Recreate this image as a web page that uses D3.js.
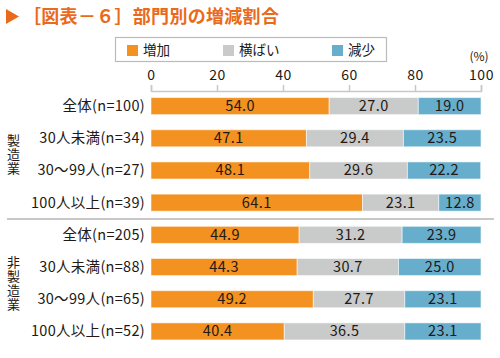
<!DOCTYPE html>
<html><head><meta charset="utf-8">
<script src="https://cdn.jsdelivr.net/npm/d3@7"></script>
<style>
body{margin:0;background:#fff;}
svg{display:block;font-family:"Noto Sans CJK JP","Noto Sans",sans-serif;}
</style></head><body>
<svg id="c" width="500" height="358"></svg>
<script>
const categories = ["全体(n=100)","30人未満(n=34)","30～99人(n=27)","100人以上(n=39)",
                    "全体(n=205)","30人未満(n=88)","30～99人(n=65)","100人以上(n=52)"];
const groups = ["製造業","非製造業"];
const seriesNames = ["増加","横ばい","減少"];
const increase = [54.0,47.1,48.1,64.1,44.9,44.3,49.2,40.4];
const flat     = [27.0,29.4,29.6,23.1,31.2,30.7,27.7,36.5];
const decrease = [19.0,23.5,22.2,12.8,23.9,25.0,23.1,23.1];
const ticks = [0,20,40,60,80,100];
const colors = ["#F39121","#C9CACA","#66AECB"];

const svg = d3.select("#c");
const x = d3.scaleLinear().domain([0,100]).range([151,481]);
const y = d3.scaleBand().domain(d3.range(8)).range([90,347.5]).paddingInner(0.47).paddingOuter(0.235);

// title
svg.append("path").attr("d","M6,9 L19,16.5 L6,24 Z").attr("fill","#EA6A1C");
svg.append("text").attr("x",23).attr("y",23).attr("fill","#EA6A1C")
  .attr("font-size",18).attr("font-weight","bold").attr("letter-spacing",0.3).text("［図表－６］部門別の増減割合");

// legend
svg.append("rect").attr("x",115.5).attr("y",37.5).attr("width",271).attr("height",24)
  .attr("fill","#fff").attr("stroke","#bbb").attr("stroke-width",1.2);
const lx = [127,223,332];
seriesNames.forEach((s,i)=>{
  svg.append("rect").attr("x",lx[i]).attr("y",45).attr("width",11).attr("height",11).attr("fill",colors[i]);
  svg.append("text").attr("x",lx[i]+16).attr("y",55).attr("font-size",13.5).attr("fill","#231815").text(s);
});

// unit
svg.append("text").attr("x",479).attr("y",61).attr("text-anchor","middle").attr("font-size",12).attr("fill","#231815").text("(%)");

// axis
const ax = svg.append("g").attr("transform","translate(0,91)")
  .call(d3.axisTop(x).tickValues(ticks).tickSize(6).tickPadding(5).tickFormat(d3.format("d")));
ax.select(".domain").attr("stroke","#c8c8c8").attr("stroke-width",1.5);
ax.selectAll(".tick line").attr("stroke","#c8c8c8").attr("stroke-width",1.5);
ax.selectAll(".tick text").attr("font-size",14).attr("fill","#231815").attr("letter-spacing",0.5)
  .attr("font-family","'Noto Sans CJK JP',sans-serif");

// bars
const data = categories.map((c,i)=>({c,i,vals:[increase[i],flat[i],decrease[i]]}));
const rows = svg.append("g").selectAll("g").data(data).join("g");
rows.each(function(d){
  const g = d3.select(this);
  let acc = 0;
  d.vals.forEach((v,k)=>{
    const x0 = x(acc), x1 = x(acc+v);
    g.append("rect").attr("x",x0).attr("y",y(d.i)).attr("width",x1-x0).attr("height",y.bandwidth())
      .attr("fill",colors[k]).attr("stroke","#fff").attr("stroke-opacity",0.55).attr("stroke-width",1);
    g.append("text").attr("x",(x0+x1)/2).attr("y",y(d.i)+y.bandwidth()/2+5)
      .attr("text-anchor","middle").attr("font-size",14.5).attr("letter-spacing",0.4)
      .attr("fill","#231815").text(v.toFixed(1));
    acc += v;
  });
  g.append("text").attr("x",145).attr("y",y(d.i)+y.bandwidth()/2+5).attr("text-anchor","end")
    .attr("font-size",14.5).attr("letter-spacing",0.3).attr("fill","#231815").text(d.c);
});

// separator
svg.append("line").attr("x1",7).attr("x2",494).attr("y1",219).attr("y2",219)
  .attr("stroke","#c8c8c8").attr("stroke-width",2);

// group labels (vertical)
groups.forEach((gname,gi)=>{
  const cy = (y(gi*4)+y(gi*4+3)+y.bandwidth())/2;
  svg.append("text").attr("x",13.5).attr("y",cy).attr("text-anchor","middle")
    .style("writing-mode","vertical-rl").attr("letter-spacing",1)
    .attr("font-size",13).attr("fill","#231815").text(gname);
});
</script></body></html>
